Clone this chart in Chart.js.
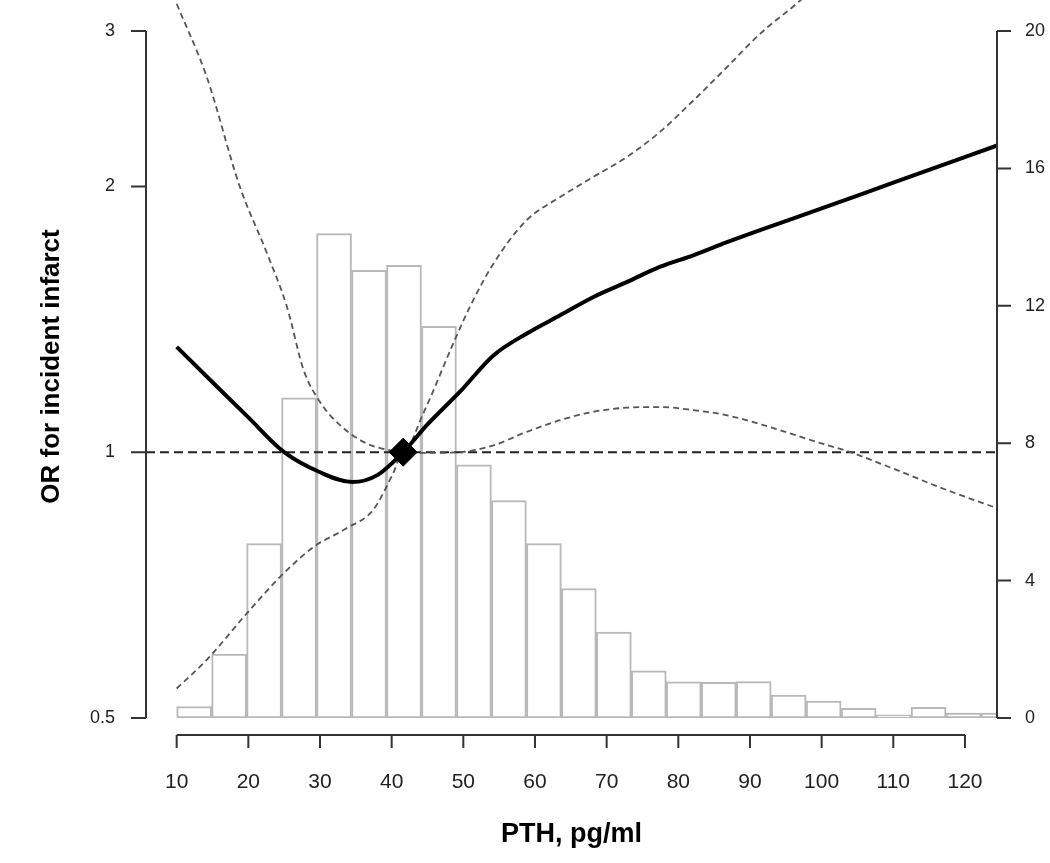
<!DOCTYPE html>
<html>
<head>
<meta charset="utf-8">
<script src="https://cdn.jsdelivr.net/npm/chart.js@4.4.1/dist/chart.umd.min.js"></script>
<style>
  body { margin: 0; background: #fff; }
  canvas { display: block; }
</style>
</head>
<body>
<canvas id="chart" width="1050" height="863"></canvas>
<script>
// histogram of PTH (right axis), bins start at 10
const histStart = 10;
const histBinWidth = 4.88;
const histCounts = [0.33, 1.86, 5.08, 9.32, 14.1, 13.03, 13.18, 11.4, 7.37, 6.33, 5.08, 3.77,
                    2.5, 1.37, 1.05, 1.04, 1.06, 0.67, 0.49, 0.28, 0.09, 0.31, 0.14, 0.14];

// odds ratio curve
const orX = [10, 15, 20, 25, 30, 34.5, 38, 41.6, 45, 49.5, 54.2, 58.8, 63.5, 68.1, 72.8, 77.4,
             82.1, 86.8, 91.4, 100, 110, 124.5];
const orY = [1.316, 1.2, 1.095, 1.0, 0.949, 0.925, 0.942, 1.0, 1.075, 1.17, 1.287, 1.362, 1.429,
             1.498, 1.558, 1.621, 1.671, 1.729, 1.784, 1.888, 2.02, 2.225];

// upper confidence limit
const upperX = [10, 14.2, 18.8, 22.6, 25.4, 27.7, 30, 32.8, 36.5, 39.8, 41.6, 44.4, 48.6, 50.9,
                54.2, 58.8, 63.5, 68.1, 72.8, 77.4, 82.1, 86.8, 91.4, 97, 102];
const upperY = [3.22, 2.66, 2.0, 1.68, 1.46, 1.24, 1.14, 1.073, 1.023, 1.005, 1.0, 1.106, 1.328,
                1.46, 1.635, 1.83, 1.945, 2.049, 2.159, 2.304, 2.502, 2.73, 2.977, 3.247, 3.55];

// lower confidence limit
const lowerX = [10, 14.2, 19.8, 24.4, 29.1, 33.7, 37.4, 40.2, 41.6, 44.4, 49.5, 54.2, 58.8, 63.5,
                68.1, 72.8, 77.4, 82.1, 86.8, 91.4, 100, 104, 110, 117, 124.5];
const lowerY = [0.54, 0.582, 0.657, 0.722, 0.781, 0.82, 0.86, 0.946, 1.0, 0.998, 1.0, 1.018, 1.054,
                1.087, 1.111, 1.123, 1.125, 1.116, 1.101, 1.076, 1.023, 1.0, 0.958, 0.909, 0.864];

const refPTH = 41.6;
const xTicks = [10, 20, 30, 40, 50, 60, 70, 80, 90, 100, 110, 120];
const orTicks = [0.5, 1, 2, 3];
const countTicks = [0, 4, 8, 12, 16, 20];

const X_MIN = 5.72, X_MAX = 124.47;

const pts = (xs, ys) => xs.map((x, i) => ({ x: x, y: ys[i] }));
const histData = histCounts.map((c, i) => ({ x: histStart + histBinWidth * (i + 0.5), y: c }));

// R-style axes: line only between first and last tick, ticks pointing out
const axesPlugin = {
  id: 'rAxes',
  afterDraw(chart) {
    const ctx = chart.ctx;
    const { x, y, y2 } = chart.scales;
    const area = chart.chartArea;
    ctx.save();
    ctx.strokeStyle = '#333';
    ctx.lineWidth = 2;
    ctx.beginPath();
    // left
    ctx.moveTo(area.left, y.getPixelForValue(orTicks[0]));
    ctx.lineTo(area.left, y.getPixelForValue(orTicks[orTicks.length - 1]));
    orTicks.forEach(v => {
      const py = y.getPixelForValue(v);
      ctx.moveTo(area.left, py);
      ctx.lineTo(area.left - 15, py);
    });
    // right
    ctx.moveTo(area.right, y2.getPixelForValue(countTicks[0]));
    ctx.lineTo(area.right, y2.getPixelForValue(countTicks[countTicks.length - 1]));
    countTicks.forEach(v => {
      const py = y2.getPixelForValue(v);
      ctx.moveTo(area.right, py);
      ctx.lineTo(area.right + 14, py);
    });
    // bottom
    const by = area.bottom + 17;
    ctx.moveTo(x.getPixelForValue(xTicks[0]), by);
    ctx.lineTo(x.getPixelForValue(xTicks[xTicks.length - 1]), by);
    xTicks.forEach(v => {
      const px = x.getPixelForValue(v);
      ctx.moveTo(px, by);
      ctx.lineTo(px, by + 13);
    });
    ctx.stroke();
    ctx.restore();
  }
};

// no extra room for edge labels, the layout is fixed
function noPad(s) {
  s.paddingTop = 0;
  s.paddingBottom = 0;
  s.paddingLeft = 0;
  s.paddingRight = 0;
}

const tickFont = { family: 'Liberation Sans, Arial, sans-serif', size: 18 };
const ciClip = { left: 0, top: 20, right: 0, bottom: 0 };

new Chart(document.getElementById('chart'), {
  data: {
    datasets: [
      {
        type: 'scatter',
        data: [{ x: refPTH, y: 1 }],
        pointStyle: 'rectRot',
        pointRadius: 14,
        pointBackgroundColor: '#000',
        pointBorderColor: '#000',
        order: 0
      },
      {
        type: 'line',
        data: pts(orX, orY),
        borderColor: '#000',
        borderWidth: 4,
        pointRadius: 0,
        cubicInterpolationMode: 'monotone',
        order: 1
      },
      {
        type: 'line',
        data: pts(upperX, upperY),
        borderColor: '#555',
        borderWidth: 1.8,
        borderDash: [6, 4],
        pointRadius: 0,
        cubicInterpolationMode: 'monotone',
        clip: ciClip,
        order: 2
      },
      {
        type: 'line',
        data: pts(lowerX, lowerY),
        borderColor: '#555',
        borderWidth: 1.8,
        borderDash: [6, 4],
        pointRadius: 0,
        cubicInterpolationMode: 'monotone',
        order: 2
      },
      {
        type: 'line',
        data: [{ x: X_MIN, y: 1 }, { x: X_MAX, y: 1 }],
        borderColor: '#222',
        borderWidth: 2,
        borderDash: [9, 5],
        pointRadius: 0,
        order: 3
      },
      {
        type: 'bar',
        data: histData,
        yAxisID: 'y2',
        backgroundColor: '#fff',
        borderColor: '#b8b8b8',
        borderWidth: 2,
        borderSkipped: false,
        barPercentage: 1,
        categoryPercentage: 1,
        clip: 0,
        order: 10
      }
    ]
  },
  options: {
    responsive: false,
    devicePixelRatio: 1,
    animation: false,
    layout: { padding: 0 },
    plugins: {
      legend: { display: false },
      tooltip: { enabled: false }
    },
    scales: {
      x: {
        type: 'linear',
        position: 'bottom',
        offset: false,
        min: X_MIN,
        max: X_MAX,
        grid: { display: false, drawTicks: false, offset: false },
        border: { display: false },
        afterBuildTicks: s => { s.ticks = xTicks.map(v => ({ value: v })); },
        afterFit: s => { s.height = 145; noPad(s); },
        ticks: {
          padding: 52,
          color: '#222',
          font: { family: 'Liberation Sans, Arial, sans-serif', size: 21 },
          callback: v => String(v)
        },
        title: {
          display: true,
          text: 'PTH, pg/ml',
          color: '#000',
          font: { family: 'Liberation Sans, Arial, sans-serif', size: 27, weight: 'bold' },
          padding: { top: 0, bottom: 12 }
        }
      },
      y: {
        type: 'logarithmic',
        position: 'left',
        min: 0.5,
        max: 3.127,
        grid: { display: false, drawTicks: false },
        border: { display: false },
        afterBuildTicks: s => { s.ticks = orTicks.map(v => ({ value: v })); },
        afterFit: s => { s.width = 146; noPad(s); },
        ticks: {
          padding: 31,
          color: '#222',
          font: tickFont,
          callback: v => String(v)
        },
        title: {
          display: true,
          text: 'OR for incident infarct',
          color: '#000',
          font: { family: 'Liberation Sans, Arial, sans-serif', size: 26, weight: 'bold' },
          padding: { top: 36, bottom: 0 }
        }
      },
      y2: {
        type: 'linear',
        position: 'right',
        min: 0,
        max: 20.466,
        grid: { display: false, drawTicks: false },
        border: { display: false },
        afterBuildTicks: s => { s.ticks = countTicks.map(v => ({ value: v })); },
        afterFit: s => { s.width = 53; noPad(s); },
        ticks: {
          padding: 28,
          color: '#222',
          font: tickFont,
          callback: v => String(v)
        }
      }
    }
  },
  plugins: [axesPlugin]
});
</script>
</body>
</html>
